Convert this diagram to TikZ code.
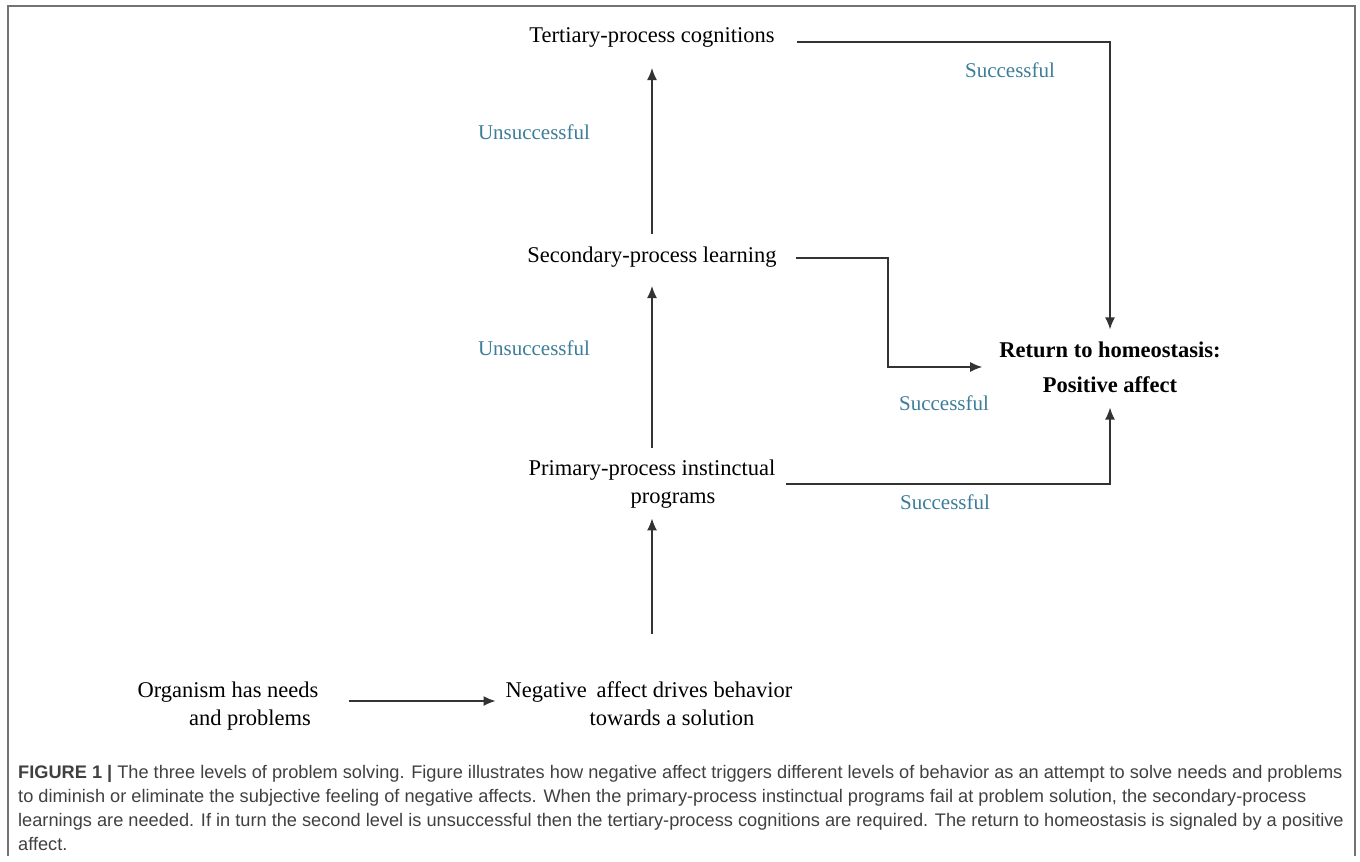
\documentclass[tikz,border=0pt]{standalone}
\usepackage{fontspec}
\setmainfont{Liberation Serif}
\newfontfamily\capfont{Liberation Sans}
\usetikzlibrary{arrows.meta}
\definecolor{tl}{rgb}{0.24, 0.49, 0.6}
\definecolor{frm}{rgb}{0.45, 0.45, 0.45}
\definecolor{capt}{rgb}{0.25, 0.25, 0.25}

\begin{document}
\begin{tikzpicture}[x=1pt, y=-1pt,
    txt/.style={inner sep=0pt, align=center, font=\fontsize{22.5}{28}\selectfont},
    res/.style={inner sep=0pt, align=center, font=\fontsize{22.5}{35}\selectfont\bfseries},
    ok/.style={inner sep=0pt, text=tl, font=\fontsize{21}{21}\selectfont},
    con/.style={line width=1.3pt, draw=black!80},
    arr/.style={con, -{Latex[length=12pt,width=10pt]}}]
%      \draw [help lines] (0,0) grid [step=50] (1360,862);
      \useasboundingbox (0,0) rectangle (1360,862);
      \draw [frm, line width=2pt] (8,856) -- (8,6) -- (1355,6) -- (1355,856);

      \node [txt, anchor=base] (tert) at (652,42) {Tertiary-process cognitions};
      \node [txt, anchor=base] (sec) at (652,262) {Secondary-process learning};
      \node [txt] (prim) at (652,484) {Primary-process instinctual\\ \hspace*{42pt}programs};
      \node [txt] (neg) at (649,704) {Negative\hspace{4pt} affect drives behavior\\ \hspace*{46pt}towards a solution};
      \node [txt] (org) at (228,706) {Organism has needs\\ \hspace*{44pt}and problems};
      \node [res] (homeo) at (1110,367) {Return to homeostasis:\\ Positive affect};

      \node [ok, anchor=base] (succ1) at (1010,77) {Successful};
      \node [ok, anchor=base] (unsucc1) at (534,139) {Unsuccessful};
      \node [ok, anchor=base] (unsucc2) at (534,355) {Unsuccessful};
      \node [ok, anchor=base] (succ2) at (944,410) {Successful};
      \node [ok, anchor=base] (succ3) at (945,509) {Successful};

      \draw [arr, shorten <=30pt, shorten >=10pt] ([yshift=5pt]org.east) -- ([yshift=5pt]org.east -| neg.west);
      \draw [arr, shorten <=48pt, shorten >=10pt] (prim |- neg.north) -- (prim.south);
      \draw [arr, shorten <=12pt, shorten >=19pt] (prim.north) -- (sec.south);
      \draw [arr, shorten <=12pt, shorten >=21pt] (sec.north) -- (tert.south);
      \draw [arr, shorten <=22pt, shorten >=12pt] (tert.base east) -| (homeo.north);
      \draw [arr, shorten <=19pt, shorten >=17pt] ([yshift=4pt]sec.base east) -- ++(111,0) |- (homeo.west);
      \draw [arr, shorten <=10pt, shorten >=15pt] (prim.east) -| (homeo.south);

      \node [anchor=north west, align=left, inner sep=0pt, text=capt,
        font=\capfont\fontsize{18.2}{24}\selectfont] (cap) at (18,765) {%
        {\bfseries FIGURE 1 |} The three levels of problem solving. Figure illustrates how negative affect triggers different levels of behavior as an attempt to solve needs and problems\\
        to diminish or eliminate the subjective feeling of negative affects. When the primary-process instinctual programs fail at problem solution, the secondary-process\\
        learnings are needed. If in turn the second level is unsuccessful then the tertiary-process cognitions are required. The return to homeostasis is signaled by a positive\\
        affect.};
\end{tikzpicture}
\end{document}
